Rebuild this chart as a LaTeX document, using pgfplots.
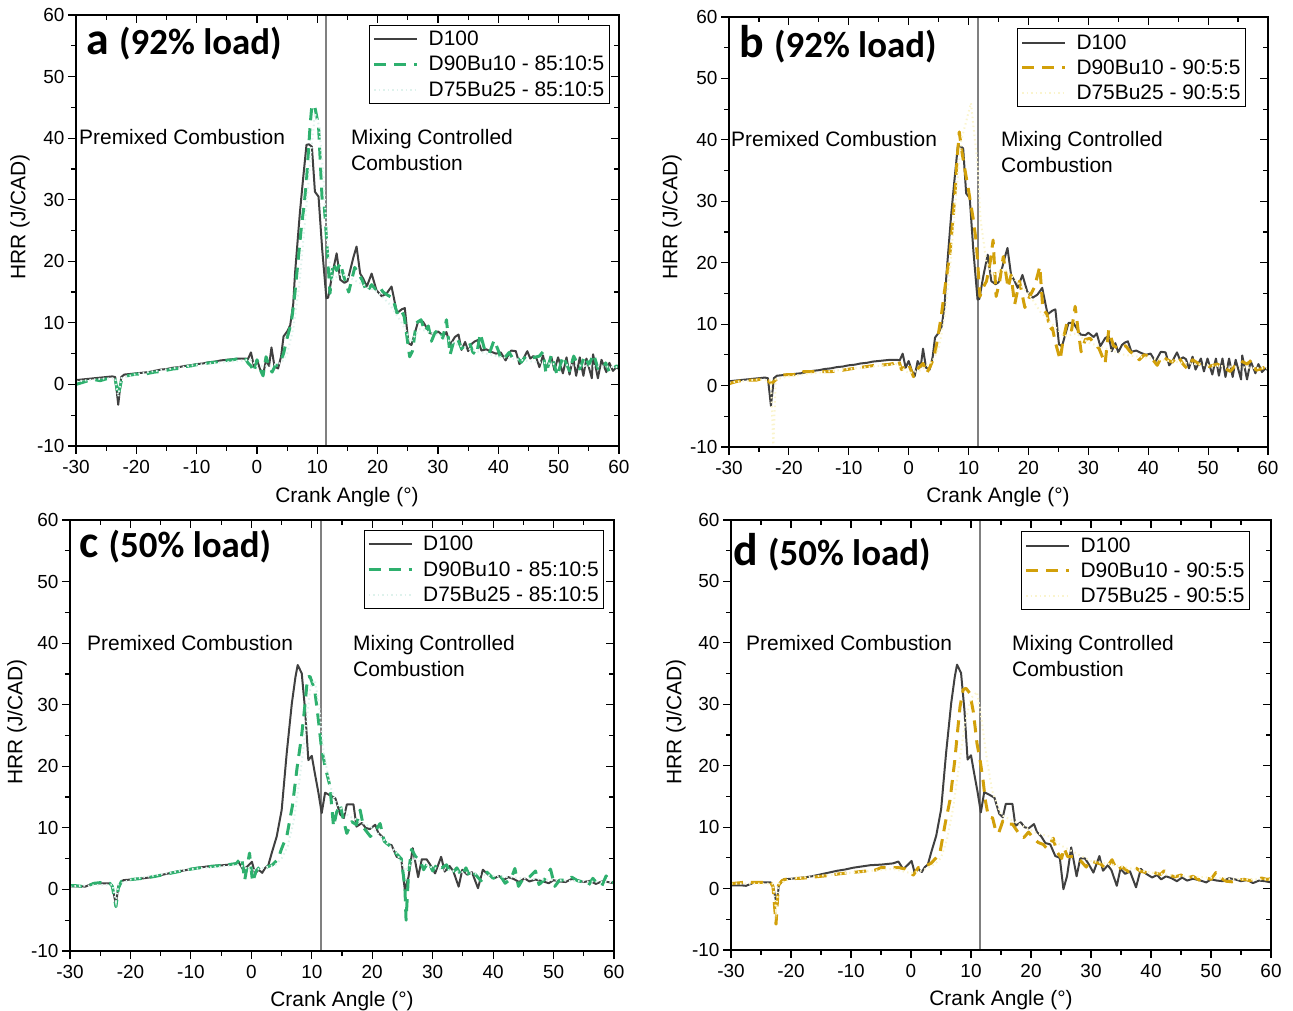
\documentclass[border=0pt]{standalone}
\usepackage{fontspec}
\setmainfont{Liberation Sans}
\newfontfamily\carl{Carlito}
\usepackage{pgfplots}
\usepackage{pgfplotstable}
\pgfplotsset{compat=1.18}
\definecolor{dgray}{RGB}{64,64,64}
\definecolor{mgreen}{RGB}{46,176,110}
\definecolor{mgold}{RGB}{210,160,10}
\definecolor{lmint}{RGB}{222,242,236}
\definecolor{lyel}{RGB}{250,244,205}
\definecolor{vline}{RGB}{128,128,128}

% D100, 92% load
\pgfplotstableread{
x y
-30 0.7
-29 0.8
-28 0.9
-27 1.0
-26 1.1
-25 1.2
-24 1.3
-23.5 1.2
-23 -3.3
-22.5 1.2
-22 1.6
-21 1.7
-20 1.8
-19 1.9
-18 2.0
-17 2.2
-16 2.4
-15 2.5
-14 2.7
-13 2.8
-12 3.0
-11 3.1
-10 3.3
-9 3.4
-8 3.6
-7 3.7
-6 3.9
-5 4.0
-4 4.1
-3 4.2
-2 4.2
-1.5 4.1
-1 5.2
-0.5 2.9
0 4.0
0.5 2.5
1 1.5
1.5 4.0
2 3.0
2.4 6.0
2.9 2.9
3.5 2.6
4 4.6
4.4 7.8
5 8.6
5.5 9.6
6 13
6.3 18
7.1 27.8
7.6 33
8.2 38.9
8.6 39
9.1 38.6
9.6 31.3
10.2 30.5
10.8 22
11.5 14
11.8 14.1
12.5 18
13.2 21.3
13.8 17
14.5 16.5
15 16.8
16 20.7
16.5 22.4
17.1 18
17.6 17.2
18.2 15.9
19 18
19.8 15.3
20.7 14.3
21.5 14.8
22.3 15.9
23.2 11.6
24 12.2
24.5 12.4
25.1 6.7
25.6 6.4
26.7 10.2
27.5 10.2
28.7 8.3
29.5 8.2
30 8.6
30.9 7.9
31.4 8.5
32 6.4
32.8 7.7
33.4 8.1
33.9 5.6
34.5 6.9
35 5.4
35.6 6.6
36.1 7
36.6 7.2
37.2 5.5
38 5.7
38.6 5.4
39.6 5
40.4 5.2
41.2 3.9
42.1 5.5
42.9 5.4
43.5 3.3
44 3.9
44.8 5.4
45.3 4.2
45.8 4.6
46.3 4.3
46.8 2.8
47.4 4.7
47.9 2.6
48.8 4.4
49.3 2.3
49.9 4.4
50.7 1.8
51.3 4.4
51.8 1.6
52.4 4.4
52.9 1.4
53.5 4.4
54.1 1.4
54.6 4.2
55.5 1.0
55.7 4.9
56.5 1.0
57.1 4.0
57.9 2.0
58.4 3.5
59 2.2
59.6 2.8
60 2.5
}\hdh

% D90Bu10 - 85:10:5, 92% load
\pgfplotstableread{
x y
-30 0.0
-29 0.3
-28 0.6
-27 0.8
-26 0.6
-25 0.9
-24 1.0
-23.5 0.8
-23 -1.8
-22.5 0.5
-22 1.3
-21 1.5
-20 1.7
-19 1.6
-18 1.8
-17 2.0
-16 2.1
-15 2.3
-14 2.5
-13 2.6
-12 2.9
-11 3.0
-10 3.2
-9 3.3
-8 3.5
-7 3.6
-6 3.8
-5 3.9
-4 4.0
-3 4.2
-2 4.3
-1.5 3.5
-1 3.0
-0.5 2.0
0 4.0
0.5 2.5
1 1.4
1.5 4.5
2 3.0
2.5 2.0
3 3.0
3.5 3.2
4 4.0
4.4 5.0
4.9 7.2
5.4 9
5.75 10.5
6.2 14
6.6 18
7.0 22
7.4 26
7.8 29
8.2 33
8.8 42
9.1 45.4
9.6 45
10.0 43
10.2 42
10.5 36
10.8 30
11.1 29.8
11.5 24
12.1 14.8
12.6 19.7
13.2 18.5
13.8 19.7
14.4 17.5
15.2 15
16.2 19
16.8 18
17.4 17
18.2 15
19 16.2
19.6 15.5
20.2 16
20.9 15
21.5 14.6
22.5 14
23.2 11.6
23.8 12.3
24.4 11
25.3 4.5
25.8 5.5
26.4 10
27.2 10.5
27.8 8.6
28.4 9.5
28.9 7
29.5 8.4
30.2 9
30.8 7.5
31.4 10.5
32 4.8
32.6 7
33.2 7.5
33.9 5.8
34.6 6.5
35.2 6.8
35.8 5.2
36.4 4.8
37 8.3
37.8 5.4
38.5 5
39.3 7.2
40 5.5
40.5 3.9
41.2 4.5
41.8 5.2
42.4 4.2
43 4.5
43.8 3.6
44.5 4.5
45.2 4.2
46 4.4
46.8 4.6
47.4 5.3
47.9 1.8
48.8 4.8
49.3 3
49.8 1.4
50.7 4.6
51.3 3.3
51.8 2.2
52.5 4.6
53.5 2.5
54.3 4.6
55 3.2
55.8 4.9
56.5 2.6
57.2 2.4
57.8 3.5
58.4 2.0
59 2.6
59.6 3.0
60 2.8
}\ga

% D75Bu25 - 85:10:5, 92% load
\pgfplotstableread{
x y
-30 0.5
-25 1.0
-23.5 1.0
-23 -2
-22.5 1
-20 1.7
-10 3.2
-1 4
0 3
2 3
4 3.5
5 5
6 9
7 16
8 27
9 38
9.6 44
10.3 42
11 34
11.7 22
12.5 17
14 18
16 17
18 16
20 15
22 13
24 10
25.5 7
27 9
30 8
33 6.5
36 5.5
40 4.5
45 3.8
50 3.2
55 3
60 2.8
}\la

% D90Bu10 - 90:5:5, 92% load
\pgfplotstableread{
x y
-30 0.3
-29 0.6
-28 0.8
-27 0.9
-26 0.9
-25.4 0.9
-24.2 1.2
-23.5 0.8
-23 0.3
-22.6 0.6
-21.2 1.7
-20 1.8
-18.2 1.8
-17.6 2.25
-15 2.3
-13.1 2.25
-11 2.5
-9.2 2.8
-7 3.1
-5.3 3.35
-3.6 3.4
-2.5 3.6
-1.7 4.2
-1.2 2.6
-0.06 3.6
0.8 1.45
1.6 2.8
2.4 3.6
3 2.0
3.6 3.1
4.2 4.5
4.7 6.9
5.4 11
6.07 16
6.9 21.5
7.7 30.7
8.1 37
8.45 41.3
8.9 38
9.4 35.1
9.96 32
10.8 27
11.3 23.2
11.9 14.5
12.4 15.9
13 17
13.6 20
14.1 23.7
14.6 14.5
15.2 17
15.8 21
16.6 15.9
17.1 18
17.7 13.2
18.5 17
19.4 12.7
20.2 14.5
21 16
21.9 19.4
22.4 12.5
23.1 11.6
23.6 9.05
24 9.4
24.5 7
25.3 4.2
25.8 7.5
26.4 10.1
27.2 9
27.8 12.9
28.3 9
28.8 5.5
29.5 7.5
30.3 7.7
31 6.8
31.8 6
32.8 3.6
33.4 9
34.2 6.5
35 6
36.2 6.5
37 5.5
37.8 5
38.5 4.2
39.3 5
40.3 4.8
41.5 3.3
42.3 4.8
43.2 4.2
44 3.8
45 4.8
45.8 3.5
46.5 2.8
47.4 4.2
48.5 3.5
49.5 3.0
50.5 3.2
51.5 3.5
52.5 3.0
53.7 2.3
54.5 3.2
55.5 4.0
56.5 3.5
57.2 4.1
58 2.5
58.8 2.7
59.5 3.0
60 2.8
}\gb

% D75Bu25 - 90:5:5, 92% load
\pgfplotstableread{
x y
-30 0.5
-25 1.0
-23 0.8
-22.6 -10
-22.2 1.0
-20 1.5
-10 2.7
-2 3.5
0 2
2 2.5
4 4
5 6
6 11
7 20
8 32
8.8 40
10.4 46
11.5 36
12 27
13 20
14 18
16 19
18 17
20 15
22 12
24 10
26 8
28 8.5
30 7
33 6
36 5
40 4.5
45 3.8
50 3.3
55 3
60 2.8
}\lb

% D100, 50% load
\pgfplotstableread{
x y
-30 0.5
-29 0.5
-28 0.5
-27.5 0.45
-26.1 1.0
-25 1.0
-24 1.0
-23.4 1.0
-23 0.5
-22.4 -2.5
-22 0.6
-21.2 1.5
-20 1.6
-19 1.7
-17.9 1.8
-16.5 2.0
-15.1 2.3
-13.7 2.6
-12.3 2.9
-11 3.1
-9.6 3.4
-8.2 3.6
-6.8 3.8
-5 3.9
-3 4.1
-2.1 4.4
-1.3 3.15
-0.5 3.9
0.1 4.5
0.6 2.6
1.2 3.2
1.8 2.7
2.3 3.5
2.8 3.9
3.37 5.9
4.2 8.6
5.02 12.9
5.85 22.1
6.7 30.2
7.3 34.5
7.67 36.45
8.34 35.1
8.9 29.1
9.43 21
10 21.7
10.5 18.9
11.1 15.7
11.64 12.4
12.2 15.7
13 15.3
13.9 14.8
14.7 12.2
15.3 11.6
15.8 13.8
16.9 13.8
17.4 10.2
18.3 10.8
18.9 10
19.6 9.8
20.5 10.5
21 9.2
21.7 8.5
22.4 7.4
23.2 7.2
24.05 5.3
24.8 5.0
25.4 -0.1
26 2
26.7 6.7
27.6 2
28.2 4.9
29 4.9
29.6 4
30.4 2.6
31.4 5.3
32 2.9
32.8 3.8
33.4 3.0
34.3 0.45
34.9 3.2
35.7 2.4
36.5 2.8
37.5 0.2
38.3 3.2
39.2 2.4
40.2 1.8
41 2.2
41.7 1.5
42.5 2.0
43.4 1.7
44.3 1.2
45.2 1.8
46 1.3
47 1.6
48.3 1.3
49.2 1.0
50 1.5
51 1.3
52 1.2
53 1.7
54 1.5
55 1.2
56 1.4
57 0.9
58 1.3
59 1.2
60 1.0
}\ldh

% D90Bu10 - 85:10:5, 50% load
\pgfplotstableread{
x y
-30 0.6
-29 0.6
-28 0.5
-27 0.6
-26 1.0
-25 1.1
-24 1.0
-23.4 1.0
-23 0.5
-22.4 -2.8
-22 0.2
-21.5 1.3
-21 1.6
-20 1.6
-18 1.8
-16 2.1
-14 2.5
-12 2.9
-10 3.3
-8 3.6
-6 3.8
-4 4.0
-2.5 4.2
-1.6 5.2
-1.1 1.5
-0.3 5.9
0.2 1.2
0.8 3.0
1.5 3.8
2.5 3.6
3.5 4.0
4.4 4.9
5 6.6
5.9 8.8
6.8 13.6
7.6 20
8.3 24.8
8.9 30.2
9.3 34.5
9.7 34.6
10.1 33.5
10.5 32.3
11.1 27.5
11.6 23
12.2 20
13 16.8
13.6 10.2
14.1 12.5
14.7 13.8
15.3 11
15.8 9.1
16.6 11
17.4 10.5
18 12.9
18.6 10
19.7 8.6
20.5 9.5
21.3 10.7
22 7.8
23 7
24 5.8
24.8 5.0
25.4 0.44
25.6 -5
26 2.5
26.5 6.5
27.2 5.3
28 4.5
28.5 3.2
29.3 4.5
30 3.0
30.8 4.2
31.5 3.5
32.3 4.0
33 2.4
34 3.5
34.8 2.2
35.5 3.5
36.3 1.8
37 2.5
38 1.4
39 2.8
40 1.8
41 2.5
42 1.0
43 1.8
43.6 3.4
44.2 0.5
45 1.8
46 2.0
47 3.0
47.6 0.8
48.5 1.6
49.5 3.3
50.2 0.5
51 1.5
52 1.5
53 2.0
54 1.4
55 1.2
55.8 0.7
56.5 1.8
57.2 1.0
58 0.6
58.7 2.2
59.3 1.2
60 1.1
}\gc

% D75Bu25 - 85:10:5, 50% load
\pgfplotstableread{
x y
-30 0.5
-23 0.8
-22.4 -2
-22 0.8
-20 1.6
-10 3.3
-2 4
0 3
2 3.5
4 4
5 5
6 7
7 11
8 18
9 26
9.8 33
10.5 34
11.2 30
12 22
13 17
14 14
16 12
18 11
20 10
22 8
24 6
25.5 3
27 5
30 3.5
35 2.8
40 2.2
45 1.8
50 1.5
55 1.3
60 1.2
}\lc

% D90Bu10 - 90:5:5, 50% load
\pgfplotstableread{
x y
-30 0.8
-29 0.9
-28 1.0
-27 1.0
-26 1.0
-25 1.0
-24 1.0
-23.4 1.0
-23 0.3
-22.5 -5.8
-22.1 0.5
-21.5 1.3
-21 1.5
-20 1.6
-18 1.7
-16 1.9
-14 2.1
-12 2.4
-10 2.6
-8 2.8
-6 3.0
-5 3.4
-3.9 3.4
-2 3.4
-1 3.2
0.4 2.2
1.2 3.4
2.2 3.6
3.3 4.1
4.0 4.8
4.8 5.7
5.7 10.6
6.5 14.4
7.3 20.9
7.8 26
8.17 29.6
8.7 32.4
9.17 32.6
9.8 31.8
10.4 28.7
11 23.6
11.5 21
12 17.7
12.4 14.3
12.9 11.7
13.6 11.5
14.1 9.5
14.6 9
15.3 11
15.8 10.5
16.9 10.5
17.6 9.5
18.3 8.5
18.8 8.3
19.6 9.2
20.4 8.2
21.2 7.5
22 7.2
22.6 6.6
23.3 7.5
23.7 8.2
24.3 6.0
25.1 4.9
25.5 6.6
26.1 5.2
27 5.2
27.5 5.0
28.3 4.5
29.2 3.5
29.8 4.5
31 4.2
31.6 4.0
32.5 3.2
33.5 4.7
34.3 3.0
35.2 3.5
36.3 2.7
37.4 3.4
38.3 2.8
39.3 2.6
40.5 2.6
41.6 2.3
42.2 2.9
43 2.2
44 1.9
45 2.2
46 1.7
47 2.0
48 1.4
49 1.8
50 1.5
50.8 2.6
51.5 1.8
52.5 1.2
53.5 1.1
54.5 1.4
55.5 1.5
56.5 1.3
57.5 1.6
58.5 1.7
59.3 1.5
60 1.6
}\gd

% D75Bu25 - 90:5:5, 50% load
\pgfplotstableread{
x y
-30 0.8
-23 0.8
-22.5 -3.5
-22 0.8
-20 1.6
-10 2.6
-3 3.2
0 2.5
2 3
4 4
5 5
6 8
7 13
8 20
9 27
10 31
11 32
11.7 28
12.5 22
13.5 16
15 12
17 11
19 10
21 9
23 8.5
25 7
27 6
30 4.5
33 4
36 3.4
40 2.6
45 2
50 1.8
55 1.5
60 1.5
}\ld

\pgfplotsset{
  base/.style={scale only axis, anchor=south west,
    xmin=-30, xmax=60, ymin=-10, ymax=60,
    xtick={-30,-20,...,60}, ytick={-10,0,...,60},
    minor x tick num=1, minor y tick num=1,
    axis line style={line width=1.2bp},
    every tick/.style={black, line width=1.2bp},
    major tick length=8bp, minor tick length=5bp},
  mainax/.style={base, tick align=outside, xtick pos=left, ytick pos=left,
    tick label style={font=\fontsize{19}{22}\selectfont},
    xticklabel style={yshift=-3bp},
    /pgf/number format/assume math mode=true,
    legend cell align=left,
    legend image code/.code={\draw[##1] (0bp,0bp) -- (43bp,0bp);},
    legend style={anchor=north east, draw=black, line width=0.8bp,
      font=\fontsize{21}{25}\selectfont, inner xsep=3bp, inner ysep=4bp,
      row sep=5bp,
      /tikz/every odd column/.append style={column sep=8bp},
      /tikz/every even column/.append style={column sep=4bp}}},
  mirror/.style={base, tick align=inside, xtick pos=right, ytick pos=right,
    xticklabels={}, yticklabels={}},
  d100/.style={dgray, line width=2bp, line join=round},
  gdash/.style={mgreen, line width=3bp, line join=round, dash pattern=on 12bp off 8bp},
  ydash/.style={mgold, line width=3bp, line join=round, dash pattern=on 12bp off 8bp},
  gdot/.style={lmint, line width=2bp, dash pattern=on 1.5bp off 3bp},
  ydot/.style={lyel, line width=2bp, dash pattern=on 1.5bp off 3bp},
  vl/.style={vline, line width=2bp, forget plot},
}

\begin{document}
\begin{tikzpicture}[x=1bp,y=1bp]
% ---------- panel a ----------
\begin{axis}[mainax, at={(76bp,565bp)}, width=543bp, height=431bp,
  legend style={at={(0.983,0.977)}}]
\addplot[vl] coordinates {(11.5,-10) (11.5,60)};
\addplot[d100] table {\hdh}; \addlegendentry{D100}
\addplot[gdash] table {\ga}; \addlegendentry{D90Bu10 - 85:10:5}
\addplot[gdot] table {\la}; \addlegendentry{D75Bu25 - 85:10:5}
\end{axis}
\begin{axis}[mirror, at={(76bp,565bp)}, width=543bp, height=431bp]
\end{axis}
% ---------- panel b ----------
\begin{axis}[mainax, at={(729bp,564bp)}, width=539bp, height=430bp,
  legend style={at={(0.959,0.974)}}]
\addplot[vl] coordinates {(11.5,-10) (11.5,60)};
\addplot[d100] table {\hdh}; \addlegendentry{D100}
\addplot[ydash] table {\gb}; \addlegendentry{D90Bu10 - 90:5:5}
\addplot[ydot] table {\lb}; \addlegendentry{D75Bu25 - 90:5:5}
\end{axis}
\begin{axis}[mirror, at={(729bp,564bp)}, width=539bp, height=430bp]
\end{axis}
% ---------- panel c ----------
\begin{axis}[mainax, at={(70bp,60bp)}, width=544bp, height=431bp,
  legend style={at={(0.982,0.977)}}]
\addplot[vl] coordinates {(11.5,-10) (11.5,60)};
\addplot[d100] table {\ldh}; \addlegendentry{D100}
\addplot[gdash] table {\gc}; \addlegendentry{D90Bu10 - 85:10:5}
\addplot[gdot] table {\lc}; \addlegendentry{D75Bu25 - 85:10:5}
\end{axis}
\begin{axis}[mirror, at={(70bp,60bp)}, width=544bp, height=431bp]
\end{axis}
% ---------- panel d ----------
\begin{axis}[mainax, at={(731bp,61bp)}, width=540bp, height=430bp,
  legend style={at={(0.961,0.974)}}]
\addplot[vl] coordinates {(11.5,-10) (11.5,60)};
\addplot[d100] table {\ldh}; \addlegendentry{D100}
\addplot[ydash] table {\gd}; \addlegendentry{D90Bu10 - 90:5:5}
\addplot[ydot] table {\ld}; \addlegendentry{D75Bu25 - 90:5:5}
\end{axis}
\begin{axis}[mirror, at={(731bp,61bp)}, width=540bp, height=430bp]
\end{axis}

% ---------- axis labels ----------
\tikzset{lab/.style={font=\fontsize{21}{25}\selectfont, inner sep=0pt}}
\node[lab, rotate=90] at (20bp,794bp) {HRR (J/CAD)};
\node[lab, rotate=90] at (672bp,794bp) {HRR (J/CAD)};
\node[lab, rotate=90] at (17bp,289bp) {HRR (J/CAD)};
\node[lab, rotate=90] at (676bp,289bp) {HRR (J/CAD)};
\node[lab] at (347bp,514bp) {Crank Angle (°)};
\node[lab] at (998bp,514bp) {Crank Angle (°)};
\node[lab] at (342bp,10bp) {Crank Angle (°)};
\node[lab] at (1001bp,11bp) {Crank Angle (°)};

% ---------- annotations ----------
\tikzset{ann/.style={font=\fontsize{21}{25}\selectfont, inner sep=0pt, anchor=base west}}
\node[ann] at (79bp,866bp) {Premixed Combustion};
\node[ann] at (351bp,866bp) {Mixing Controlled};
\node[ann] at (351bp,840bp) {Combustion};
\node[ann] at (731bp,864bp) {Premixed Combustion};
\node[ann] at (1001bp,864bp) {Mixing Controlled};
\node[ann] at (1001bp,838bp) {Combustion};
\node[ann] at (87bp,360bp) {Premixed Combustion};
\node[ann] at (353bp,360bp) {Mixing Controlled};
\node[ann] at (353bp,334bp) {Combustion};
\node[ann] at (746bp,360bp) {Premixed Combustion};
\node[ann] at (1012bp,360bp) {Mixing Controlled};
\node[ann] at (1012bp,334bp) {Combustion};

% ---------- panel titles ----------
\tikzset{ttl/.style={inner sep=0pt, anchor=base west, font=\carl\bfseries}}
\node[ttl] at (86bp,956bp) {\fontsize{46}{46}\selectfont a \fontsize{37}{37}\selectfont(92\% load)};
\node[ttl] at (739bp,953bp) {\fontsize{46}{46}\selectfont b \fontsize{37}{37}\selectfont(92\% load)};
\node[ttl] at (79bp,453bp) {\fontsize{46}{46}\selectfont c \fontsize{37}{37}\selectfont(50\% load)};
\node[ttl] at (733bp,445bp) {\fontsize{46}{46}\selectfont d \fontsize{37}{37}\selectfont(50\% load)};

\pgfresetboundingbox
\path[use as bounding box] (0bp,0bp) rectangle (1293bp,1011bp);
\end{tikzpicture}
\end{document}
